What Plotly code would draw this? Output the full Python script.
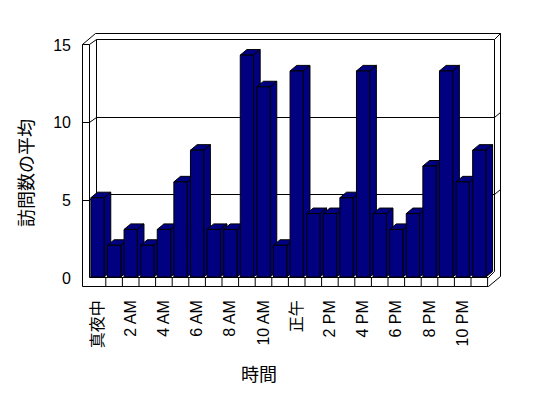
import plotly.graph_objects as go

# ---------------- data ----------------
hours = ["真夜中", "1 AM", "2 AM", "3 AM", "4 AM", "5 AM", "6 AM", "7 AM", "8 AM",
         "9 AM", "10 AM", "11 AM", "正午", "1 PM", "2 PM", "3 PM", "4 PM", "5 PM",
         "6 PM", "7 PM", "8 PM", "9 PM", "10 PM", "11 PM"]
visits = [5, 2, 3, 2, 3, 6, 8, 3, 3, 14, 12, 2, 13, 4, 4, 5, 13, 4, 3, 4, 7, 13, 6, 8]
tick_labels = ["真夜中", "2 AM", "4 AM", "6 AM", "8 AM", "10 AM", "正午",
               "2 PM", "4 PM", "6 PM", "8 PM", "10 PM"]
y_ticks = [0, 5, 10, 15]
x_title = "時間"
y_title = "訪問数の平均"

# ---------------- geometry / style ----------------
PAGE_W, PAGE_H = 548, 398
BODY = 8                                 # default page body margin
W, H = PAGE_W - BODY, PAGE_H - BODY
L, R, T, B = 82, 501, 33, 286           # plot area in page pixels
X0_PX, PX_X = 97.5, 16.6                # category 0 centre, px per category
Y0_PX, PX_Y = 277, 15.85                # value 0, px per unit (bars)
LBL0, LBL_PX = 278, 15.53               # value axis label scale (front wall)
BAR_W = 0.8
DX, DY = 0.40, 0.35                     # 3-D depth of the bars
NAVY = "#000080"
FONT = "Liberation Sans, Noto Sans CJK JP, sans-serif"

x_range = [(L - X0_PX) / PX_X, (R - X0_PX) / PX_X]
y_range = [(Y0_PX - B) / PX_Y, (Y0_PX - T) / PX_Y]
y2_range = [(LBL0 - B) / LBL_PX, (LBL0 - T) / LBL_PX]

xs = list(range(len(hours)))

# 3-D side and top faces computed from the values
sx, sy, tx, ty = [], [], [], []
for x, v in zip(xs, visits):
    l, r = x - BAR_W / 2, x + BAR_W / 2
    sx += [r, r, r + DX, r + DX, r, None]
    sy += [0, v, v + DY, DY, 0, None]
    tx += [l, r, r + DX, l + DX, l, None]
    ty += [v, v, v + DY, v + DY, v, None]

fig = go.Figure()
fig.add_trace(go.Scatter(x=sx, y=sy, mode="lines", fill="toself", fillcolor=NAVY,
                         line=dict(color="black", width=1), hoverinfo="skip", zorder=0))
fig.add_trace(go.Scatter(x=tx, y=ty, mode="lines", fill="toself", fillcolor=NAVY,
                         line=dict(color="black", width=1), hoverinfo="skip", zorder=0))
fig.add_trace(go.Bar(x=xs, y=visits, width=BAR_W, marker=dict(color=NAVY, line=dict(color="black", width=1)),
                     zorder=1))
# invisible trace that carries the value-label axis
fig.add_trace(go.Scatter(x=[None], y=[None], yaxis="y2", mode="markers", hoverinfo="skip"))


def px2paper(px, py):
    return (px + 0.5 - L) / (R - L), (B - py - 0.5) / (B - T)


def seg(x0, y0, x1, y1):
    a, b = px2paper(x0, y0)
    c, d = px2paper(x1, y1)
    return dict(type="line", xref="paper", yref="paper", x0=a, y0=b, x1=c, y1=d,
                line=dict(color="black", width=1), layer="below")


frame = [
    # left wall
    (82, 44, 82, 286), (89, 44, 89, 277), (82, 44, 89, 44),
    (82, 44, 95, 33), (89, 44, 96, 39), (96, 39, 96, 271),
    # back wall
    (95, 33, 500, 33), (96, 39, 494, 39), (494, 39, 500, 33),
    (494, 39, 494, 271), (500, 33, 500, 276),
    # gridline 10
    (82, 122, 89, 122), (89, 122, 96, 117), (96, 117, 494, 117), (494, 117, 500, 112),
    # gridline 5
    (82, 200, 89, 200), (89, 200, 96, 194), (96, 194, 494, 194), (494, 194, 500, 189),
    # floor
    (82, 286, 488, 286), (89, 277, 488, 277), (488, 277, 494, 271), (488, 286, 500, 276),
]
shapes = [seg(*f) for f in frame]
# floor separators at the category boundaries
_, fy_top = px2paper(0, 277)
for x in xs:
    shapes.append(dict(type="line", xref="x", yref="paper", x0=x + 0.5, x1=x + 0.5,
                       y0=fy_top, y1=0, line=dict(color="black", width=1), layer="below"))

tx_vals = [hours.index(t) for t in tick_labels]

fig.update_layout(
    width=W, height=H,
    margin=dict(l=L - BODY, r=PAGE_W - R, t=T - BODY, b=PAGE_H - B, pad=0, autoexpand=False),
    paper_bgcolor="white", plot_bgcolor="white",
    showlegend=False,
    font=dict(family=FONT, size=16, color="black"),
    shapes=shapes,
    xaxis=dict(range=x_range, tickmode="array", tickvals=tx_vals, ticktext=tick_labels,
               tickangle=-90, showgrid=False, zeroline=False, showline=False, ticks="",
               ticklabelstandoff=10, tickfont=dict(size=16), automargin=False),
    yaxis=dict(range=y_range, showgrid=False, zeroline=False, showline=False,
               showticklabels=False, ticks="", automargin=False),
    yaxis2=dict(range=y2_range, overlaying="y", side="left", tickmode="array", tickvals=y_ticks,
                showgrid=False, zeroline=False, showline=False, ticks="",
                ticklabelstandoff=10, tickfont=dict(size=16), automargin=False),
    annotations=[
        dict(text=y_title, xref="paper", yref="paper", x=(27 - L) / (R - L), y=(B - 173) / (B - T),
             textangle=-90, showarrow=False, font=dict(size=18), xanchor="center", yanchor="middle"),
        dict(text=x_title, xref="paper", yref="paper", x=(259 - L) / (R - L), y=(B - 375) / (B - T),
             showarrow=False, font=dict(size=18), xanchor="center", yanchor="middle"),
    ],
)

fig.write_html("out.html")
